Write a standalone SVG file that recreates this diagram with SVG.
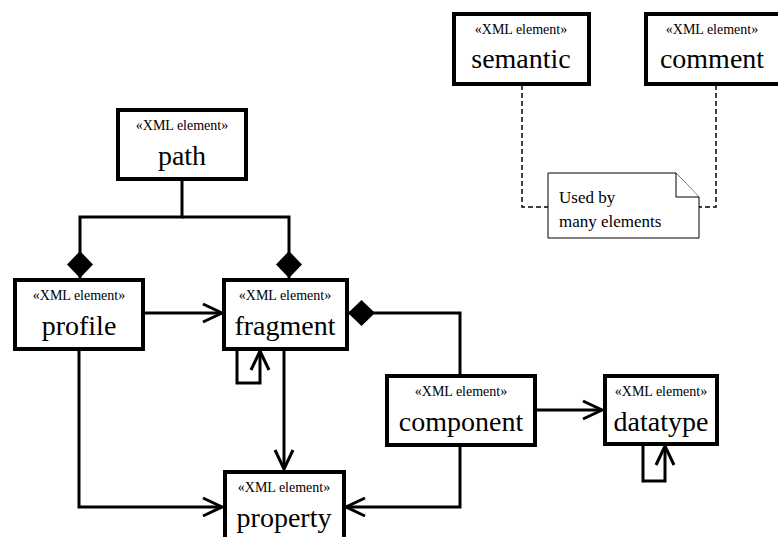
<svg xmlns="http://www.w3.org/2000/svg" width="778" height="537" viewBox="0 0 778 537" font-family="Liberation Serif, Times New Roman, serif">
<style>
.box{fill:#fff;stroke:#000;stroke-width:4}
.st{font-size:14px;text-anchor:middle;fill:#000}
.nm{font-size:28px;text-anchor:middle;fill:#000}
.ln{fill:none;stroke:#000;stroke-width:3}
.dash{fill:none;stroke:#000;stroke-width:1.5;stroke-dasharray:5,3}
.note{fill:#fff;stroke:#000;stroke-width:1}
.nt{font-size:17px;fill:#000}
</style>
<defs>
<marker id="arrow" markerUnits="userSpaceOnUse" markerWidth="24" markerHeight="24" refX="20" refY="10" orient="auto" overflow="visible">
<path d="M1,1 L20,10 L1,19" fill="none" stroke="#000" stroke-width="3"/>
</marker>
<marker id="diamond" markerUnits="userSpaceOnUse" markerWidth="28" markerHeight="28" refX="27" refY="13" orient="auto" overflow="visible">
<path d="M0,13 L13.5,0 L27,13 L13.5,26 Z" fill="#000"/>
</marker>
</defs>
<g id="connectors">
<path class="ln" d="M182,180 V217 H80 V278" marker-end="url(#diamond)"/>
<path class="ln" d="M182,217 H289 V278" marker-end="url(#diamond)"/>
<path class="ln" d="M144,313 H222" marker-end="url(#arrow)"/>
<path class="ln" d="M237,350 V383 H260 V351" marker-end="url(#arrow)"/>
<path class="ln" d="M284,350 V469" marker-end="url(#arrow)"/>
<path class="ln" d="M79,350 V507 H222" marker-end="url(#arrow)"/>
<path class="ln" d="M460,374 V313 H348" marker-end="url(#diamond)"/>
<path class="ln" d="M460,446 V507 H346" marker-end="url(#arrow)"/>
<path class="ln" d="M536,410 H602" marker-end="url(#arrow)"/>
<path class="ln" d="M643,445 V481 H665 V446" marker-end="url(#arrow)"/>
<path class="dash" d="M522,85 V207 H548"/>
<path class="dash" d="M716,85 V207 H699"/>
</g>
<g id="path">
<rect class="box" x="118" y="110" width="128" height="69"/>
<text class="st" x="182" y="130">«XML element»</text>
<text class="nm" x="182" y="165">path</text>
</g>
<g id="profile">
<rect class="box" x="15" y="280" width="128" height="69"/>
<text class="st" x="79" y="300">«XML element»</text>
<text class="nm" x="79" y="335">profile</text>
</g>
<g id="fragment">
<rect class="box" x="224" y="280" width="123" height="69"/>
<text class="st" x="285" y="300">«XML element»</text>
<text class="nm" x="285" y="335">fragment</text>
</g>
<g id="component">
<rect class="box" x="387" y="376" width="148" height="69"/>
<text class="st" x="461" y="396">«XML element»</text>
<text class="nm" x="461" y="431">component</text>
</g>
<g id="datatype">
<rect class="box" x="605" y="376" width="112" height="68"/>
<text class="st" x="661" y="396">«XML element»</text>
<text class="nm" x="661" y="431">datatype</text>
</g>
<g id="property">
<rect class="box" x="225" y="472" width="119" height="75"/>
<text class="st" x="284" y="492">«XML element»</text>
<text class="nm" x="284" y="527">property</text>
</g>
<g id="semantic">
<rect class="box" x="454" y="14" width="135" height="70"/>
<text class="st" x="521" y="34">«XML element»</text>
<text class="nm" x="521" y="68">semantic</text>
</g>
<g id="comment">
<rect class="box" x="646" y="14" width="135" height="70"/>
<text class="st" x="712" y="34">«XML element»</text>
<text class="nm" x="712" y="68">comment</text>
</g>
<g id="note">
<path class="note" d="M548,173 H676 L699,197 V238 H548 Z"/>
<path class="note" d="M676,173 V197 H699"/>
<text class="nt" x="559" y="203">Used by</text>
<text class="nt" x="559" y="227">many elements</text>
</g>
</svg>
